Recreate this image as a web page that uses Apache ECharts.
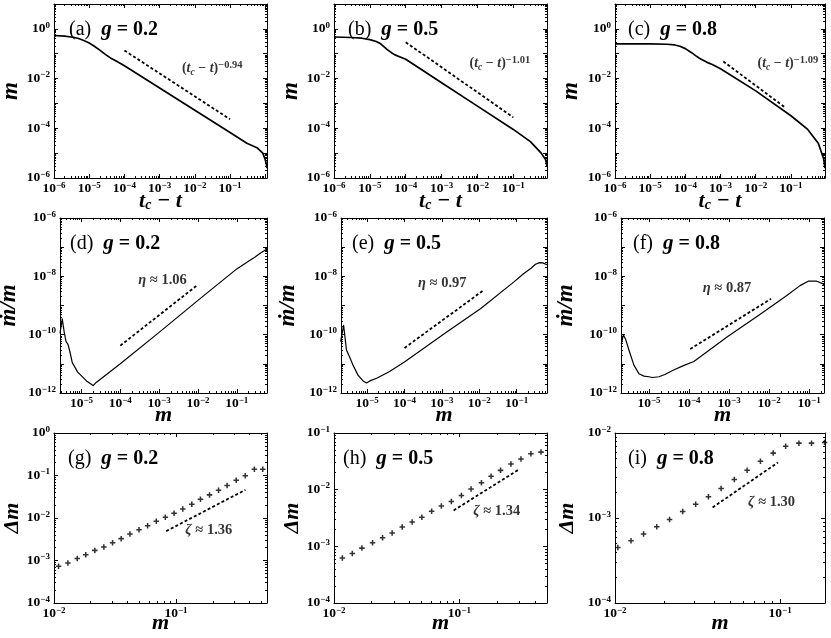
<!DOCTYPE html>
<html><head><meta charset="utf-8">
<script src="https://cdn.jsdelivr.net/npm/echarts@6/dist/echarts.min.js"></script>
<style>html,body{margin:0;padding:0;background:#fff}#c{width:831px;height:638px}</style>
</head><body><div id="c"></div>
<script>
// ---------- DATA ----------
// Row 1: m vs (t_c - t)
const tA = [1e-6, 2e-6, 3.5e-6, 5e-6, 7e-6, 1e-5, 1.4e-5, 2e-5, 3e-5, 4e-5, 6e-5, 1e-4, 1e-3, 1e-2, 1e-1, 0.3, 0.6, 0.85, 1.0, 1.08, 1.12];
const mA = [0.54, 0.51, 0.46, 0.41, 0.34, 0.27, 0.2, 0.14, 0.09, 0.068, 0.05, 0.033, 4.2e-3, 5.3e-4, 6.8e-5, 2.5e-5, 1.6e-5, 1e-5, 5.4e-6, 3.5e-6, 2.5e-6];
const tB = [1e-6, 3e-6, 6e-6, 1e-5, 1.5e-5, 2e-5, 2.5e-5, 3e-5, 4e-5, 5e-5, 7e-5, 1e-4, 1e-3, 1e-2, 1e-1, 0.3, 0.6, 0.8, 0.87];
const mB = [0.47, 0.45, 0.42, 0.37, 0.31, 0.25, 0.19, 0.15, 0.11, 0.09, 0.074, 0.06, 6.8e-3, 7.8e-4, 9e-5, 2.9e-5, 1e-5, 5.4e-6, 3e-6];
const tC = [1e-6, 1e-5, 3e-5, 5e-5, 7e-5, 1e-4, 1.5e-4, 2e-4, 2.5e-4, 3e-4, 4e-4, 6e-4, 1e-3, 1e-2, 1e-1, 0.3, 0.6, 0.85, 0.93];
const mC = [0.25, 0.25, 0.24, 0.225, 0.2, 0.16, 0.11, 0.082, 0.066, 0.057, 0.046, 0.036, 0.025, 3.2e-3, 3.2e-4, 9e-5, 2.5e-5, 6e-6, 2.5e-6];
const fitA = {x: [1e-4, 0.1], y: [0.135, 2.3e-4]};
const fitB = {x: [1e-4, 0.1], y: [0.29, 2.75e-4]};
const fitC = {x: [1.2e-3, 0.068], y: [0.049, 6.9e-4]};
// Row 2: mdot/m vs m
const mD = [2.8e-6, 3.2e-6, 3.6e-6, 4.0e-6, 4.5e-6, 5.0e-6, 5.8e-6, 8e-6, 1.35e-5, 2.0e-5, 2.4e-5, 1e-4, 1e-3, 1e-2, 0.1, 0.2, 0.29, 0.4, 0.6];
const rD = [1.1e-10, 3.5e-10, 1.2e-10, 5.9e-11, 4.6e-11, 2.7e-11, 1.1e-11, 5.2e-12, 2.6e-12, 1.8e-12, 2.3e-12, 1e-11, 1.2e-10, 1.5e-9, 1.8e-8, 3.3e-8, 4.5e-8, 6.2e-8, 8.7e-8];
const mE = [1.95e-6, 2.35e-6, 2.8e-6, 3.4e-6, 4.2e-6, 5.7e-6, 7.8e-6, 9.6e-6, 1.18e-5, 1.8e-5, 4e-5, 1.04e-4, 1.38e-3, 1.1e-2, 0.0865, 0.15, 0.243, 0.32, 0.41, 0.5, 0.65];
const rE = [5.8e-11, 2.1e-10, 3e-11, 1.7e-11, 8.9e-12, 4.1e-12, 2.6e-12, 2.2e-12, 2.6e-12, 3.2e-12, 5.5e-12, 1.2e-11, 1.26e-10, 7.9e-10, 6.6e-9, 1.2e-8, 1.9e-8, 2.6e-8, 2.95e-8, 2.9e-8, 2.5e-8];
const mF = [2.04e-6, 2.3e-6, 2.6e-6, 3.2e-6, 4.2e-6, 5.6e-6, 7.5e-6, 1e-5, 1.21e-5, 1.77e-5, 2.5e-5, 4e-5, 7e-5, 1.32e-4, 8.9e-4, 6e-3, 0.0277, 0.059, 0.095, 0.155, 0.225, 0.235];
const rF = [4.7e-11, 1e-10, 7e-11, 2.8e-11, 9e-12, 4.6e-12, 3.8e-12, 3.6e-12, 3.4e-12, 3.6e-12, 4.3e-12, 6e-12, 8.5e-12, 1.2e-11, 8.3e-11, 5e-10, 2.2e-9, 4.8e-9, 6.8e-9, 6.8e-9, 5.5e-9, 5e-9];
const fitD = {x: [1e-4, 1e-2], y: [4.2e-11, 5.2e-9]};
const fitE = {x: [1e-4, 1.25e-2], y: [3.5e-11, 3.2e-9]};
const fitF = {x: [1.07e-4, 1.12e-2], y: [3.2e-11, 1.7e-9]};
// Row 3: Delta m vs m
const mG = [0.0109, 0.0130, 0.0155, 0.0182, 0.0216, 0.0256, 0.0302, 0.0355, 0.0419, 0.0497, 0.0585, 0.0689, 0.0817, 0.0963, 0.1135, 0.1345, 0.1585, 0.188, 0.223, 0.262, 0.311, 0.369, 0.438, 0.513];
const dG = [7.3e-4, 8.7e-4, 1.12e-3, 1.37e-3, 1.73e-3, 2.08e-3, 2.63e-3, 3.27e-3, 4.2e-3, 5.3e-3, 6.6e-3, 8.4e-3, 1.04e-2, 1.29e-2, 1.63e-2, 2.1e-2, 2.75e-2, 3.5e-2, 4.5e-2, 5.8e-2, 7.7e-2, 9.9e-2, 0.14, 0.14];
const mH = [0.01166, 0.0140, 0.0167, 0.0203, 0.0244, 0.0291, 0.035, 0.042, 0.0502, 0.0601, 0.0718, 0.0863, 0.1038, 0.124, 0.15, 0.179, 0.213, 0.258, 0.31, 0.372, 0.448];
const dH = [6.2e-4, 7.5e-4, 9.3e-4, 1.16e-3, 1.42e-3, 1.72e-3, 2.19e-3, 2.69e-3, 3.25e-3, 4.15e-3, 5.15e-3, 6.2e-3, 7.9e-3, 1.03e-2, 1.33e-2, 1.72e-2, 2.19e-2, 2.84e-2, 3.48e-2, 4.3e-2, 4.6e-2];
const mI = [0.0104, 0.0125, 0.0149, 0.0179, 0.0214, 0.0257, 0.0308, 0.0368, 0.0439, 0.0528, 0.0631, 0.076, 0.0908, 0.108, 0.13, 0.155, 0.186];
const dI = [4.5e-4, 5.4e-4, 6.5e-4, 7.9e-4, 9.6e-4, 1.19e-3, 1.45e-3, 1.78e-3, 2.22e-3, 2.83e-3, 3.64e-3, 4.64e-3, 5.8e-3, 6.97e-3, 7.6e-3, 7.6e-3, 7.75e-3];
const fitG = {x: [0.083, 0.37], y: [4.9e-3, 4.6e-2]};
const fitH = {x: [0.09, 0.30], y: [4.3e-3, 2.29e-2]};
const fitI = {x: [0.039, 0.097], y: [1.33e-3, 4.5e-3]};
// panel texts
const titles = [['(a)', '0.2'], ['(b)', '0.5'], ['(c)', '0.8'], ['(d)', '0.2'], ['(e)', '0.5'], ['(f)', '0.8'], ['(g)', '0.2'], ['(h)', '0.5'], ['(i)', '0.8']];
const exps = ['−0.94', '−1.01', '−1.09'];
const etas = ['1.06', '0.97', '0.87'];
const zetas = ['1.36', '1.34', '1.30'];

// ---------- LAYOUT / STYLE ----------
const FONT = "'Liberation Serif', 'DejaVu Serif', serif";
const zip = (a, b) => a.map((v, i) => [v, b[i]]);
const p10 = e => Number('1e' + e);
const range = (a, b) => { const r = []; for (let e = a; e <= b; e++) r.push(e); return r; };

const panels = [
  {g: [54, 4, 213, 174], x: [1e-6, 1.12], y: [1e-6, 10], xl: range(-6, -1), yl: [-6, -4, -2, 0], row: 0, line: [tA, mA], fit: fitA, ann: [4.3e-3, 0.025], ny: 31, tp: [69, 19]},
  {g: [334, 4, 213, 174], x: [1e-6, 0.87], y: [1e-6, 10], xl: range(-6, -1), yl: [-6, -4, -2, 0], row: 0, line: [tB, mB], fit: fitB, ann: [6.0e-3, 0.04], ny: 31, tp: [348, 19]},
  {g: [615, 4, 210, 174], x: [1e-6, 0.93], y: [1e-6, 10], xl: range(-6, -1), yl: [-6, -4, -2, 0], row: 0, line: [tC, mC], fit: fitC, ann: [0.0112, 0.04], ny: 32, tp: [628, 19]},
  {g: [60, 218, 207, 175], x: [2.8e-6, 0.6], y: [1e-12, 1e-6], xl: range(-5, -1), yl: [-12, -10, -8, -6], row: 1, line: [mD, rD], fit: fitD, ann: [2.9e-4, 7.6e-9], ny: 39, tp: [70, 233]},
  {g: [341, 218, 206, 175], x: [2e-6, 0.65], y: [1e-12, 1e-6], xl: range(-5, -1), yl: [-12, -10, -8, -6], row: 1, line: [mE, rE], fit: fitE, ann: [2.3e-4, 5.9e-9], ny: 41, tp: [352, 233]},
  {g: [621, 218, 203, 175], x: [2e-6, 0.235], y: [1e-12, 1e-6], xl: range(-5, -1), yl: [-12, -10, -8, -6], row: 1, line: [mF, rF], fit: fitF, ann: [2.2e-4, 3.8e-9], ny: 43, tp: [633, 233]},
  {g: [54, 433, 213, 170], x: [0.01, 0.556], y: [1e-4, 1], xl: [-2, -1], yl: range(-4, 0), row: 2, pts: [mG, dG], fit: fitG, ann: [0.119, 5.2e-3], ny: 31, tp: [68, 448]},
  {g: [334, 433, 213, 170], x: [0.01, 0.5], y: [1e-4, 0.1], xl: [-2, -1], yl: range(-4, -1), row: 2, pts: [mH, dH], fit: fitH, ann: [0.129, 4.2e-3], ny: 31, tp: [343, 448]},
  {g: [615, 433, 210, 170], x: [0.01, 0.187], y: [1e-4, 0.01], xl: [-2, -1], yl: range(-4, -2), row: 2, pts: [mI, dI], fit: fitI, ann: [0.064, 1.55e-3], ny: 37, tp: [628, 448]}
];

const SUP = {
  b: {fontFamily: FONT, fontSize: 13.5, fontWeight: 'bold', color: '#000', lineHeight: 16},
  s: {fontFamily: FONT, fontSize: 9, fontWeight: 'bold', color: '#000', verticalAlign: 'top', lineHeight: 9}
};
const tickLabel = v => { const e = Math.round(Math.log10(v)); return '{b|10}{s|' + (e < 0 ? '−' : '') + Math.abs(e) + '}'; };
const majors = (lo, hi) => { const r = []; for (let e = Math.ceil(Math.log10(lo) - 1e-9); e <= Math.floor(Math.log10(hi) + 1e-9); e++) r.push(p10(e)); return r; };
const minors = (lo, hi) => { const r = []; for (let e = Math.floor(Math.log10(lo)); e <= Math.floor(Math.log10(hi)); e++) for (let k = 2; k <= 9; k++) { const v = k * p10(e); if (v > lo && v < hi) r.push(v); } return r; };

const nameStyle = (fs) => ({
  fontFamily: FONT, fontSize: fs, fontStyle: 'italic', fontWeight: 'bold', color: '#000',
  rich: {
    s: {fontFamily: FONT, fontSize: 14, fontStyle: 'italic', fontWeight: 'bold', color: '#000', verticalAlign: 'bottom', lineHeight: 15},
    u: {fontFamily: FONT, fontSize: fs, fontWeight: 'bold', color: '#000'}
  }
});
const xNames = ['t{s|c} − t', 'm', 'm'];
const yNames = ['m', 'ṁ/m', '{u|Δ}m'];
const xGap = [12, 11, 9];
const yFont = [23, 23, 22];

const option = {animation: false, backgroundColor: '#fff', grid: [], xAxis: [], yAxis: [], series: [], title: []};

panels.forEach((p, gi) => {
  option.grid.push({left: p.g[0], top: p.g[1], width: p.g[2], height: p.g[3], containLabel: false, outerBoundsMode: 'none'});
  const xMaj = majors(p.x[0], p.x[1]), yMaj = majors(p.y[0], p.y[1]);
  const xMin = minors(p.x[0], p.x[1]), yMin = minors(p.y[0], p.y[1]);
  const lineS = {show: true, onZero: false, lineStyle: {color: '#000', width: 1}};
  const tk = (vals, len) => ({show: true, inside: true, length: len, customValues: vals, lineStyle: {color: '#000', width: 1}});
  const base = (mm) => ({gridIndex: gi, type: 'log', logBase: 10, min: mm[0], max: mm[1], splitLine: {show: false}, minorTick: {show: false}});
  const xi = option.xAxis.length, yi = option.yAxis.length;
  option.xAxis.push(Object.assign(base(p.x), {
    position: 'bottom', axisLine: lineS, axisTick: tk(xMaj, 4),
    axisLabel: {customValues: p.xl.map(p10), formatter: tickLabel, margin: 3, fontWeight: 'bold', fontFamily: FONT, rich: SUP},
    name: xNames[p.row], nameLocation: 'middle', nameGap: xGap[p.row], nameMoveOverlap: false, nameTextStyle: nameStyle(22)
  }));
  option.xAxis.push(Object.assign(base(p.x), {position: 'top', axisLine: lineS, axisTick: tk(xMaj, 4), axisLabel: {show: false}}));
  option.xAxis.push(Object.assign(base(p.x), {position: 'bottom', axisLine: {show: false}, axisTick: tk(xMin, 2), axisLabel: {show: false}}));
  option.xAxis.push(Object.assign(base(p.x), {position: 'top', axisLine: {show: false}, axisTick: tk(xMin, 2), axisLabel: {show: false}}));
  option.yAxis.push(Object.assign(base(p.y), {
    position: 'left', axisLine: lineS, axisTick: tk(yMaj, 4),
    axisLabel: {customValues: p.yl.map(p10), formatter: tickLabel, margin: 4, fontWeight: 'bold', fontFamily: FONT, rich: SUP},
    name: yNames[p.row], nameLocation: 'middle', nameGap: p.ny, nameMoveOverlap: false, nameTextStyle: nameStyle(yFont[p.row])
  }));
  option.yAxis.push(Object.assign(base(p.y), {position: 'right', axisLine: lineS, axisTick: tk(yMaj, 4), axisLabel: {show: false}}));
  option.yAxis.push(Object.assign(base(p.y), {position: 'left', axisLine: {show: false}, axisTick: tk(yMin, 2), axisLabel: {show: false}}));
  option.yAxis.push(Object.assign(base(p.y), {position: 'right', axisLine: {show: false}, axisTick: tk(yMin, 2), axisLabel: {show: false}}));

  if (p.line) {
    option.series.push({type: 'line', xAxisIndex: xi, yAxisIndex: yi, data: zip(p.line[0], p.line[1]), symbol: 'none', smooth: false,
      lineStyle: {color: '#000', width: p.row === 0 ? 1.7 : 1.2, join: 'round'}, silent: true, z: 3});
  }
  if (p.pts) {
    option.series.push({type: 'scatter', xAxisIndex: xi, yAxisIndex: yi, data: zip(p.pts[0], p.pts[1]),
      symbol: 'path://M-1.4,-5L1.4,-5L1.4,-1.4L5,-1.4L5,1.4L1.4,1.4L1.4,5L-1.4,5L-1.4,1.4L-5,1.4L-5,-1.4L-1.4,-1.4Z', symbolSize: 5.5,
      itemStyle: {color: '#000'}, silent: true, z: 3});
  }
  option.series.push({type: 'line', xAxisIndex: xi, yAxisIndex: yi, data: zip(p.fit.x, p.fit.y), symbol: 'none',
    lineStyle: {color: '#000', width: 1.8, type: [3, 2.2]}, silent: true, z: 3});

  // annotation text anchored in data coordinates
  const col = gi % 3;
  let txt;
  if (p.row === 0) txt = '({i|t}{s|c} − {i|t}){p|' + exps[col] + '}';
  else if (p.row === 1) txt = '{i|η} ≈ ' + etas[col];
  else txt = '{i|ζ} ≈ ' + zetas[col];
  const AF = p.row === 0 ? 14 : 14.5;
  const rich = {
    i: {fontFamily: FONT, fontSize: AF, fontStyle: 'italic', fontWeight: 'bold', color: '#000', lineHeight: 18},
    s: {fontFamily: FONT, fontSize: 9.5, fontStyle: 'italic', fontWeight: 'bold', color: '#000', verticalAlign: 'bottom', lineHeight: 12},
    p: {fontFamily: FONT, fontSize: 10.5, fontWeight: 'bold', color: '#000', verticalAlign: 'top', lineHeight: 10}
  };
  option.series.push({type: 'scatter', xAxisIndex: xi, yAxisIndex: yi, data: [p.ann], symbolSize: 0, silent: true, z: 5,
    label: {show: true, position: [0, 0], align: 'left', verticalAlign: 'middle', formatter: () => txt,
      fontFamily: FONT, fontSize: AF, fontWeight: 'bold', color: '#000', rich: rich}});

  option.title.push({left: p.tp[0], top: p.tp[1], padding: 0,
    text: titles[gi][0] + '  {g|g} {n|= ' + titles[gi][1] + '}',
    textStyle: {fontFamily: FONT, fontSize: 20, fontWeight: 'normal', color: '#000',
      rich: {g: {fontFamily: FONT, fontSize: 21, fontStyle: 'italic', fontWeight: 'bold', color: '#000'},
             n: {fontFamily: FONT, fontSize: 20, fontWeight: 'bold', color: '#000'}}}});
});

const chart = echarts.init(document.getElementById('c'), null, {renderer: 'canvas'});
chart.setOption(option);
</script>
</body></html>
